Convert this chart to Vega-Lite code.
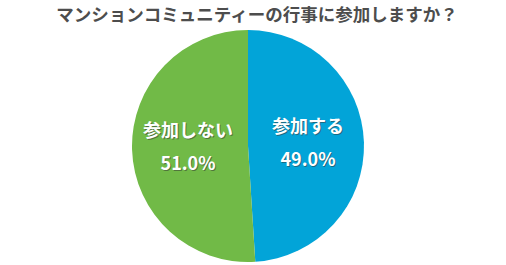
{
  "$schema": "https://vega.github.io/schema/vega-lite/v6.json",
  "autosize": {"type": "none"},
  "width": 496,
  "height": 232,
  "padding": {"top": 30, "left": 0, "right": 10, "bottom": 3},
  "background": "white",
  "view": {"stroke": null},
  "title": {
    "text": "マンションコミュニティーの行事に参加しますか？",
    "font": "Noto Sans CJK JP",
    "fontSize": 17.5,
    "fontWeight": "bold",
    "color": "#4d4d4d",
    "anchor": "middle",
    "dx": 9,
    "offset": 6
  },
  "data": {
    "values": [
      {"answer": "参加する", "pct": 49.0, "order": 1, "label": ["参加する", "49.0%"]},
      {"answer": "参加しない", "pct": 51.0, "order": 2, "label": ["参加しない", "51.0%"]}
    ]
  },
  "encoding": {
    "theta": {"field": "pct", "type": "quantitative", "stack": true},
    "order": {"field": "order", "type": "ordinal"},
    "color": {
      "field": "answer",
      "type": "nominal",
      "scale": {"domain": ["参加する", "参加しない"], "range": ["#02a4d8", "#71ba47"]},
      "legend": null
    }
  },
  "layer": [
    {"mark": {"type": "arc", "outerRadius": 116}},
    {
      "mark": {"type": "text", "radius": 60, "font": "Noto Sans CJK JP", "fontSize": 18, "fontWeight": "bold", "lineHeight": 33, "baseline": "middle", "align": "center", "dx": 1, "dy": -15, "opacity": 0.5},
      "encoding": {"text": {"field": "label"}, "color": {"value": "#333333"}}
    },
    {
      "mark": {"type": "text", "radius": 60, "font": "Noto Sans CJK JP", "fontSize": 18, "fontWeight": "bold", "lineHeight": 33, "baseline": "middle", "align": "center", "dy": -16},
      "encoding": {"text": {"field": "label"}, "color": {"value": "white"}}
    }
  ]
}
